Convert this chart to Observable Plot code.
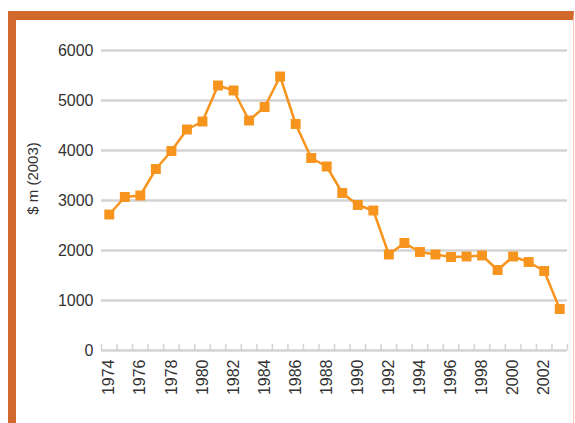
<!DOCTYPE html>
<html>
<head>
<meta charset="utf-8">
<script src="https://cdn.jsdelivr.net/npm/d3@7"></script>
<script src="https://cdn.jsdelivr.net/npm/@observablehq/plot@0.6"></script>
<style>
  html, body { margin: 0; padding: 0; background: #fff; }
  #wrap { position: relative; width: 575px; height: 423px; overflow: hidden; }
  #frame { position: absolute; left: 8px; top: 11px; width: 557px; height: 420px;
           border-top: 9px solid #D0692B; border-left: 8px solid #D0692B;
           border-right: 1px solid #F2C9B2; box-sizing: content-box; }
  #chart { position: absolute; left: 0; top: 0; }
</style>
</head>
<body>
<div id="wrap"><div id="frame"></div><div id="chart"></div></div>
<script>
const years = [1974,1975,1976,1977,1978,1979,1980,1981,1982,1983,1984,1985,1986,1987,1988,1989,1990,1991,1992,1993,1994,1995,1996,1997,1998,1999,2000,2001,2002,2003];
const values = [2720,3070,3100,3630,3990,4420,4580,5300,5200,4600,4870,5480,4530,3850,3680,3150,2910,2800,1920,2150,1970,1920,1870,1880,1900,1610,1880,1770,1590,830];
const yTicks = [0,1000,2000,3000,4000,5000,6000];
const xLabelYears = [1974,1976,1978,1980,1982,1984,1986,1988,1990,1992,1994,1996,1998,2000,2002];
const yLabel = "$ m (2003)";

const data = years.map((yr, i) => ({year: yr, value: values[i]}));
const boundaries = d3.range(years.length + 1).map(i => years[0] - 0.5 + i);

const chart = Plot.plot({
  width: 575,
  height: 423,
  marginLeft: 101,
  marginRight: 8,
  marginTop: 50,
  marginBottom: 73,
  style: {fontFamily: "Liberation Sans, Arial, sans-serif", fontSize: "16px", color: "#333", background: "transparent"},
  x: {domain: [years[0] - 0.5, years[years.length - 1] + 0.5]},
  y: {domain: [0, 6000]},
  marks: [
    Plot.gridY(yTicks, {stroke: "#d3d3d3", strokeWidth: 2.5, strokeOpacity: 1}),
    Plot.ruleX(boundaries, {y1: 0, y2: 125, stroke: "#d3d3d3", strokeWidth: 1.5}),
    Plot.axisY(yTicks, {tickSize: 0, tickPadding: 8, tickFormat: d => String(d), fontSize: 16, fill: "#333", label: null}),
    Plot.axisX(xLabelYears, {tickSize: 0, tickPadding: 9, tickRotate: -90, tickFormat: d => String(d), fontSize: 16, fill: "#333", label: null}),
    Plot.text([yLabel], {frameAnchor: "left", textAnchor: "middle", dx: -68, dy: -22, rotate: -90, fontSize: "15px", fill: "#333", text: d => d}),
    Plot.line(data, {x: "year", y: "value", stroke: "#F7941D", strokeWidth: 2.5}),
    Plot.dot(data, {x: "year", y: "value", symbol: "square", r: 5.6, fill: "#F7941D", stroke: "none"})
  ]
});
document.getElementById("chart").appendChild(chart);
</script>
</body>
</html>
